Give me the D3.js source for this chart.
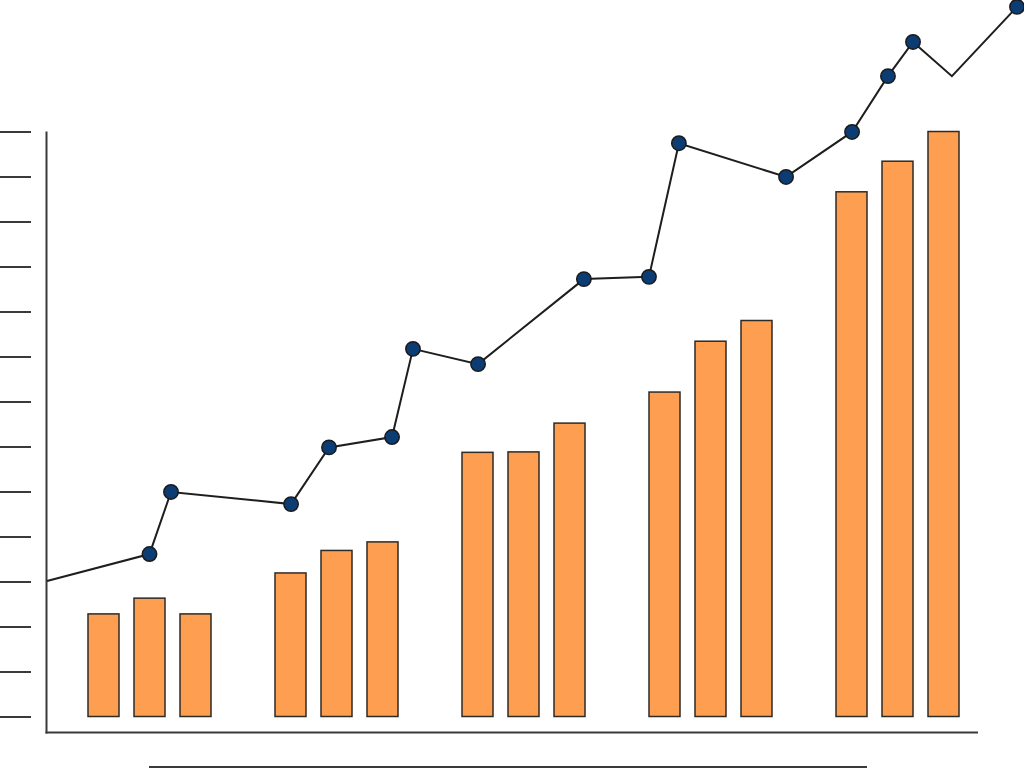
<!DOCTYPE html>
<html>
<head>
<meta charset="utf-8">
<script src="https://cdn.jsdelivr.net/npm/d3@7"></script>
<style>
html,body{margin:0;padding:0;background:#fff;overflow:hidden;}
svg{display:block;}
</style>
</head>
<body>
<svg id="chart" width="1024" height="768"></svg>
<script>
// ---- data ----
const groups = ["G1", "G2", "G3", "G4", "G5"];
const seriesNames = ["S1", "S2", "S3"];
const seriesA = [2.28, 3.19, 5.87, 7.21, 11.66];
const seriesB = [2.63, 3.69, 5.88, 8.34, 12.34];
const seriesC = [2.28, 3.88, 6.52, 8.8, 13.0];
const yTicks = [0,1,2,3,4,5,6,7,8,9,10,11,12,13];
const lineX = [-0.548, 0, 0.115, 0.757, 0.96, 1.297, 1.409, 1.757, 2.323, 2.671, 2.831, 3.404, 3.757, 3.949, 4.083, 4.291, 4.639];
const lineY = [3.01, 3.61, 4.99, 4.72, 5.98, 6.21, 8.17, 7.83, 9.72, 9.77, 12.74, 11.99, 12.99, 14.23, 14.99, 14.23, 15.77];
const lineMarker = [false, true, true, true, true, true, true, true, true, true, true, true, true, true, true, false, true];

// ---- layout ----
const svg = d3.select("#chart");
const y = d3.scaleLinear().domain([0, 13]).range([716.5, 131.5]);
const x0 = d3.scaleBand().domain(groups).range([56, 991]).paddingInner(64/187).paddingOuter(32/187);
const x1 = d3.scaleBand().domain(seriesNames).range([0, x0.bandwidth()]).paddingInner(15/46).paddingOuter(0);
const xl = d3.scaleLinear().domain([0, 4]).range([x0("G1") + x0.bandwidth()/2, x0("G5") + x0.bandwidth()/2]);

const axisColor = "#3a3a3a";

// y ticks (detached from axis)
svg.append("g")
  .attr("transform", "translate(31,0)")
  .call(d3.axisLeft(y).tickValues(yTicks).tickSize(31).tickFormat(""))
  .call(g => g.select(".domain").remove())
  .call(g => g.selectAll(".tick line").attr("stroke", axisColor).attr("stroke-width", 2));

// axis lines
svg.append("line").attr("x1", 46.5).attr("x2", 46.5).attr("y1", y(13)).attr("y2", 733.5)
  .attr("stroke", axisColor).attr("stroke-width", 2);
svg.append("line").attr("x1", 45.5).attr("x2", 978).attr("y1", 732.5).attr("y2", 732.5)
  .attr("stroke", axisColor).attr("stroke-width", 2);
svg.append("line").attr("x1", 149).attr("x2", 867).attr("y1", 767).attr("y2", 767)
  .attr("stroke", axisColor).attr("stroke-width", 2);

// bars
const table = groups.map((g, i) => ({group: g, vals: [seriesA[i], seriesB[i], seriesC[i]]}));
const gg = svg.append("g").selectAll("g").data(table).join("g")
  .attr("transform", d => `translate(${x0(d.group)},0)`);
gg.selectAll("rect").data(d => d.vals.map((v, j) => ({s: seriesNames[j], v})))
  .join("rect")
  .attr("x", d => x1(d.s))
  .attr("width", x1.bandwidth())
  .attr("y", d => y(d.v))
  .attr("height", d => y(0) - y(d.v))
  .attr("fill", "#FD9E50")
  .attr("stroke", "#2e2a26")
  .attr("stroke-width", 1.5);

// line
const pts = lineX.map((v, i) => ({x: v, y: lineY[i], m: lineMarker[i]}));
svg.append("path").datum(pts)
  .attr("d", d3.line().x(d => xl(d.x)).y(d => y(d.y)))
  .attr("fill", "none").attr("stroke", "#1e1e1e").attr("stroke-width", 2);
svg.append("g").selectAll("circle").data(pts.filter(d => d.m)).join("circle")
  .attr("cx", d => xl(d.x)).attr("cy", d => y(d.y)).attr("r", 7.2)
  .attr("fill", "#0B3D74").attr("stroke", "#1a1a1a").attr("stroke-width", 1.5);
</script>
</body>
</html>
